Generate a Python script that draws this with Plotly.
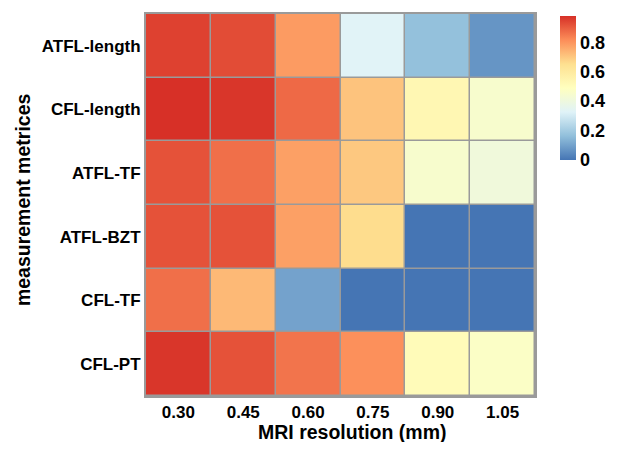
import plotly.graph_objects as go

resolutions = ["0.30", "0.45", "0.60", "0.75", "0.90", "1.05"]
metrics = ["ATFL-length", "CFL-length", "ATFL-TF", "ATFL-BZT", "CFL-TF", "CFL-PT"]

atfl_length = [0.95, 0.93, 0.79, 0.33, 0.17, 0.07]
cfl_length = [0.98, 0.97, 0.88, 0.71, 0.53, 0.45]
atfl_tf = [0.92, 0.87, 0.78, 0.70, 0.45, 0.41]
atfl_bzt = [0.92, 0.92, 0.78, 0.66, 0.0, 0.0]
cfl_tf = [0.87, 0.73, 0.10, 0.0, 0.0, 0.0]
cfl_pt = [0.97, 0.92, 0.86, 0.81, 0.51, 0.47]

z = [atfl_length, cfl_length, atfl_tf, atfl_bzt, cfl_tf, cfl_pt]

colorscale = [
    [0.0, "#4575b4"], [1/6, "#91bfdb"], [2/6, "#e0f3f8"], [3/6, "#ffffbf"],
    [4/6, "#fee090"], [5/6, "#fc8d59"], [1.0, "#d73027"],
]

font_fam = "Arial, Liberation Sans, sans-serif"
tick_font = dict(family=font_fam, size=17, color="black", weight="bold")
title_font = dict(family=font_fam, size=19.5, color="black", weight="bold")

fig = go.Figure(go.Heatmap(
    z=z, x=resolutions, y=metrics,
    colorscale=colorscale, zmin=0, zmax=0.98,
    xgap=1.5, ygap=1.5,
    colorbar=dict(
        x=1.064, xanchor="left", y=0.995, yanchor="top",
        xpad=0, ypad=0,
        len=0.377, lenmode="fraction", thickness=16,
        outlinewidth=0, tickvals=[0, 0.2, 0.4, 0.6, 0.8],
        ticktext=["0", "0.2", "0.4", "0.6", "0.8"],
        ticks="", ticklabelposition="outside",
        tickfont=dict(family=font_fam, size=18, color="black", weight="bold"),
    ),
))

# page body has an 8px default margin; size the figure to fit the window
fig.update_layout(
    width=609, height=434,
    margin=dict(l=138, r=82, t=6, b=46, autoexpand=False),
    paper_bgcolor="white", plot_bgcolor="#9a9a9a",
    font=dict(family=font_fam, color="black"),
    annotations=[
        dict(text="MRI resolution (mm)", xref="paper", yref="paper",
             x=0.532, y=-0.0955, xanchor="center", yanchor="middle",
             showarrow=False, font=title_font),
        dict(text="measurement metrices", xref="paper", yref="paper",
             x=-0.316, y=0.513, xanchor="center", yanchor="middle",
             textangle=-90, showarrow=False, font=title_font),
    ],
)
fig.update_xaxes(
    type="category", showgrid=False, zeroline=False,
    showline=True, mirror=True, linecolor="#9a9a9a", linewidth=2,
    ticks="", ticklabelstandoff=0, tickfont=tick_font,
)
fig.update_yaxes(
    type="category", autorange="reversed", showgrid=False, zeroline=False,
    showline=True, mirror=True, linecolor="#9a9a9a", linewidth=2,
    ticks="", tickfont=tick_font,
)

fig.write_html("out.html")
